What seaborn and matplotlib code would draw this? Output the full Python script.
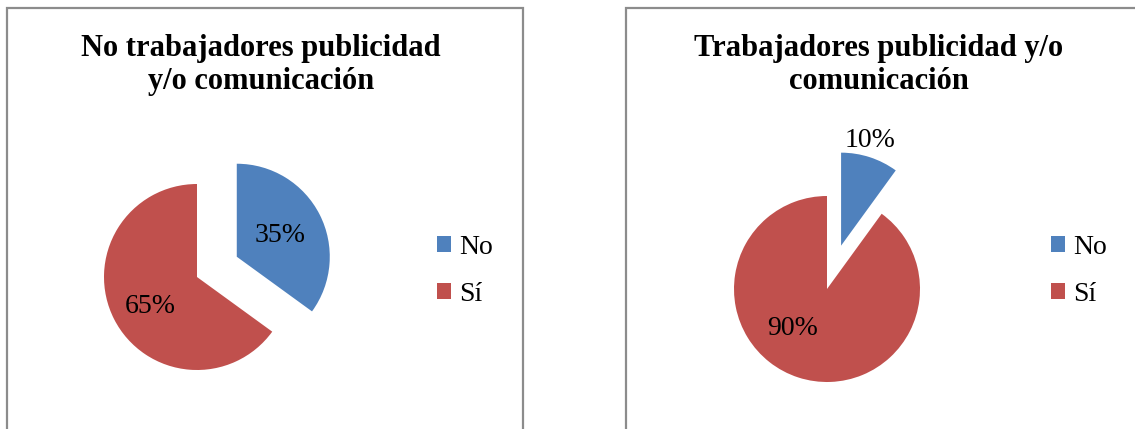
import numpy as np
import pandas as pd
import seaborn as sns
import matplotlib.pyplot as plt
from matplotlib.patches import Rectangle

sns.set_style("white")
plt.rcParams['font.family'] = ['Liberation Serif', 'DejaVu Serif']
plt.rcParams['text.color'] = 'black'

# data
categories = ["No", "Sí"]
no_trab_values = [35, 65]
trab_values = [10, 90]
titles = ["No trabajadores publicidad\ny/o comunicación",
          "Trabajadores publicidad y/o\ncomunicación"]
colors = ["#4F81BD", "#C0504D"]

W, H = 1135, 429
R = 93.0  # pie radius in px

fig = plt.figure(figsize=(W / 100, H / 100), dpi=100)

# panel frames (pixel coords from top-left)
for x0, x1 in [(7, 523), (626, 1145)]:
    fig.add_artist(Rectangle((x0 / W, -0.05), (x1 - x0) / W, (H - 8) / H + 0.05,
                             transform=fig.transFigure, fill=False,
                             edgecolor="#8c8c8c", linewidth=1.6))

panels = [
    dict(values=no_trab_values, title=titles[0], cx=197, cy=277, tx=261, ty=65,
         explode=0.48, lab=[(0.89, 0.45), (-0.50, -0.32)], leg_x=437),
    dict(values=trab_values, title=titles[1], cx=827, cy=289, tx=879, ty=65,
         explode=0.49, lab=[(0.46, 1.60), (-0.37, -0.43)], leg_x=1051),
]

df = pd.DataFrame({"categoria": categories})

for p in panels:
    ax = fig.add_axes([0, 0, 1, 1])
    ax.patch.set_alpha(0)
    wedges, texts, autotexts = ax.pie(
        p["values"], colors=colors, startangle=90, counterclock=False,
        explode=[p["explode"], 0], autopct="%1.0f%%", pctdistance=0.5,
        wedgeprops=dict(linewidth=0), textprops=dict(fontsize=20, color="black"))
    for t, pos in zip(autotexts, p["lab"]):
        t.set_position(pos)
    ax.set_aspect("auto")
    ax.set_xlim(-p["cx"] / R, (W - p["cx"]) / R)
    ax.set_ylim(-(H - p["cy"]) / R, p["cy"] / R)
    ax.axis("off")
    fig.text(p["tx"] / W, 1 - p["ty"] / H, p["title"], ha="center", va="center",
             multialignment="center", fontsize=22, fontweight="bold", linespacing=1.22,
             color="black")
    ax.legend(wedges, df["categoria"], loc="center left", frameon=False,
              bbox_to_anchor=(p["leg_x"] / W, 1 - 271 / H), bbox_transform=fig.transFigure,
              fontsize=20, handlelength=0.5, handleheight=0.5, handletextpad=0.3,
              labelspacing=0.78, borderpad=0, borderaxespad=0, labelcolor="black")

fig.savefig("out.png", dpi=100)
